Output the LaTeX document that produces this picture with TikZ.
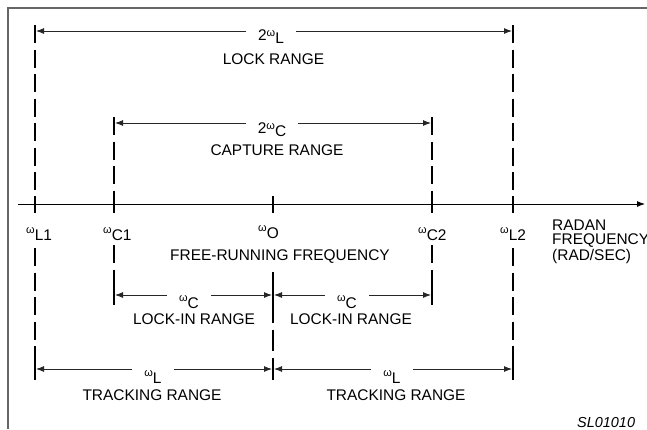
\documentclass[tikz,border=0pt]{standalone}
\usepackage{fontspec}
\setmainfont{Liberation Sans}
\usetikzlibrary{arrows.meta}
\newcommand{\wsub}[1]{\raisebox{6.5bp}{\fontsize{11}{11}\selectfont ω}#1}
\tikzstyle{rng} = [draw=black!85, line width=0.9bp]
\tikzstyle{vline} = [draw, line width=2.1bp, dash pattern=on 18bp off 6.5bp]
\tikzstyle{vtick} = [draw, line width=2.1bp]
\tikzstyle{txt} = [inner sep=0pt]
\tikzstyle{cutlbl} = [inner xsep=12bp, inner ysep=0pt]

\begin{document}
\begin{tikzpicture}[x=1bp,y=-1bp,>={Latex[length=8bp,width=6bp]},
                    font=\fontsize{15.5}{17}\selectfont]
  \useasboundingbox (0,0) rectangle (647,429);
  \draw[black!60,line width=1.2bp] (8,429) -- (8,8) -- (647,8);

  % points on the frequency axis
  \coordinate (l1)  at (35,204);
  \coordinate (c1)  at (114,204);
  \coordinate (o)   at (273,204);
  \coordinate (c2)  at (432,204);
  \coordinate (l2)  at (513,204);
  \coordinate (ax0) at (18,204);
  \coordinate (ax1) at (645,204);

  % levels
  \coordinate (ltop) at (0,25);
  \coordinate (lock) at (0,31);
  \coordinate (ctop) at (0,117);
  \coordinate (capt) at (0,123);
  \coordinate (axb)  at (0,213);
  \coordinate (lowl) at (0,248);
  \coordinate (lowc) at (0,245);
  \coordinate (lowo) at (0,272);
  \coordinate (lkin) at (0,295);
  \coordinate (trk)  at (0,369);
  \coordinate (bot)  at (0,380);

  \draw[->, line width=0.9bp] (ax0) -- (ax1);

  % dashed markers
  \draw[vline] (l1 |- ltop) -- (l1 |- axb);
  \draw[vline] (l2 |- ltop) -- (l2 |- axb);
  \draw[vline] (c1 |- ctop) -- (c1 |- axb);
  \draw[vline] (c2 |- ctop) -- (c2 |- axb);
  \draw[vline] (l1 |- lowl) -- (l1 |- bot);
  \draw[vline] (l2 |- lowl) -- (l2 |- bot);
  \draw[vline] (c1 |- lowc) -- (c1 |- lkin) -- ++(0,10);
  \draw[vline] (c2 |- lowc) -- (c2 |- lkin) -- ++(0,10);
  \draw[vline, dash pattern=on 21.75bp off 7bp] (o |- lowo) -- (o |- bot);

  \foreach \p in {l1,c1,o,c2,l2}
    \draw[vtick] (\p) ++(0,-8) -- ++(0,17);
  \foreach \p in {l1,l2}
    \draw[vtick] (\p |- ltop) -- ++(0,15);
  \foreach \p in {c1,c2}
    \draw[vtick] (\p |- ctop) -- ++(0,15);
  \foreach \p in {c1,o,c2}
    \draw[vtick] (\p |- lkin) ++(0,-8) -- ++(0,18);
  \foreach \p in {l1,o,l2}
    \draw[vtick] (\p |- trk) ++(0,-8) -- ++(0,19);

  % range labels
  \node[cutlbl, anchor=base] (wlock) at (271,40) {2\raisebox{-3bp}{\wsub{L}}};
  \node[txt, anchor=base] (tlock) at (273.5,64) {LOCK RANGE};
  \node[cutlbl, anchor=base] (wcap) at (272,133) {2\raisebox{-3bp}{\wsub{C}}};
  \node[txt, anchor=base] (tcap) at (277,155) {CAPTURE RANGE};

  \node[cutlbl, anchor=base] (wc1) at (189,308) {\wsub{C}};
  \node[cutlbl, anchor=base] (wc2) at (347,308) {\wsub{C}};
  \node[txt, anchor=base] (lk1) at (194,324) {LOCK-IN RANGE};
  \node[txt, anchor=base] (lk2) at (351,324) {LOCK-IN RANGE};

  \node[cutlbl, anchor=base] (wt1) at (153,383) {\wsub{L}};
  \node[cutlbl, anchor=base] (wt2) at (392,383) {\wsub{L}};
  \node[txt, anchor=base] (tr1) at (152,400) {TRACKING RANGE};
  \node[txt, anchor=base] (tr2) at (396,400) {TRACKING RANGE};

  % ranges
  \draw[->, rng] (wlock.west |- lock) -- ([xshift=1bp]l1 |- lock);
  \draw[->, rng] (wlock.east |- lock) -- ([xshift=-1bp]l2 |- lock);
  \draw[->, rng] (wcap.west |- capt) -- ([xshift=1bp]c1 |- capt);
  \draw[->, rng] (wcap.east |- capt) -- ([xshift=-1bp]c2 |- capt);
  \draw[->, rng] (wc1.west |- lkin) -- ([xshift=1bp]c1 |- lkin);
  \draw[->, rng] (wc1.east |- lkin) -- ([xshift=-1bp]o |- lkin);
  \draw[->, rng] (wc2.west |- lkin) -- ([xshift=1bp]o |- lkin);
  \draw[->, rng] (wc2.east |- lkin) -- ([xshift=-1bp]c2 |- lkin);
  \draw[->, rng] (wt1.west |- trk) -- ([xshift=1bp]l1 |- trk);
  \draw[->, rng] (wt1.east |- trk) -- ([xshift=-1bp]o |- trk);
  \draw[->, rng] (wt2.west |- trk) -- ([xshift=1bp]o |- trk);
  \draw[->, rng] (wt2.east |- trk) -- ([xshift=-1bp]l2 |- trk);

  % axis labels
  \node[txt, anchor=base west] (nl1) at (26,240) {\wsub{L1}};
  \node[txt, anchor=base west] (nc1) at (103,240) {\wsub{C1}};
  \node[txt, anchor=base west] (no)  at (258,238) {\wsub{O}};
  \node[txt, anchor=base west] (nc2) at (418,240) {\wsub{C2}};
  \node[txt, anchor=base west] (nl2) at (500,240) {\wsub{L2}};
  \node[txt, anchor=base] (free) at (280,260) {FREE-RUNNING FREQUENCY};

  \node[txt, anchor=base west, align=left, font=\fontsize{15.5}{14}\selectfont]
    (unit) at (552,260) {RADAN\\FREQUENCY\\(RAD/SEC)};
  \node[txt, anchor=base west, font=\fontsize{14.5}{16}\selectfont\itshape]
    (code) at (577,427) {SL01010};
\end{tikzpicture}
\end{document}
